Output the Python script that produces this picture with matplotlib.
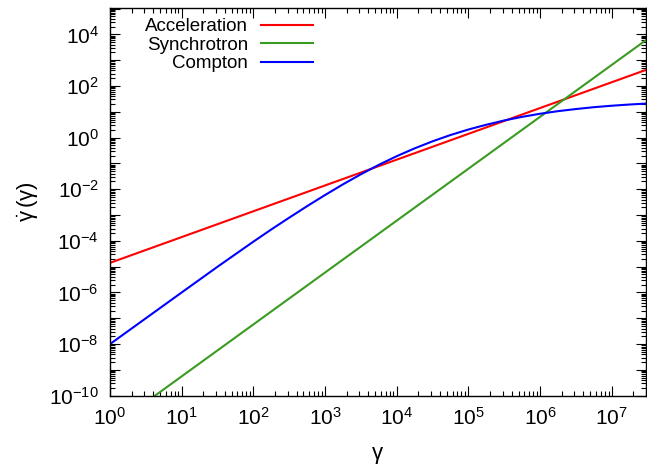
import matplotlib
matplotlib.use("Agg")
import matplotlib.pyplot as plt
from matplotlib.ticker import LogLocator, FuncFormatter, NullFormatter
import numpy as np

plt.rcParams.update({"font.family": ["Liberation Sans", "DejaVu Sans"],
                     "mathtext.fontset": "custom",
                     "mathtext.rm": "Liberation Sans",
                     "mathtext.it": "Liberation Sans:italic"})

# values
gamma_acc = [1.0, 3.0e7]
rate_acc = [1.4e-5, 4.2e2]

gamma_syn = [4.24, 3.0e7]
rate_syn = [1.0e-10, 6.0e3]

gamma_comp = [1.0, 10.0, 31.6, 100.0, 178.0, 316.0, 562.0, 1.0e3, 1.78e3, 3.16e3, 5.62e3,
              1.0e4, 1.78e4, 3.16e4, 5.62e4, 1.0e5, 1.78e5, 3.16e5, 5.62e5, 1.0e6,
              1.78e6, 3.16e6, 5.62e6, 1.0e7, 1.78e7, 3.0e7]
rate_comp = [1.0e-8, 1.0e-6, 9.9e-6, 9.3e-5, 2.77e-4, 7.9e-4, 2.21e-3, 5.96e-3, 1.55e-2, 3.80e-2, 8.81e-2,
             0.191, 0.384, 0.719, 1.26, 2.06, 3.16, 4.62, 6.38, 8.41,
             10.6, 12.8, 15.1, 17.2, 19.2, 20.8]

labels = ["Acceleration", "Synchrotron", "Compton"]
colors = ["#ff0000", "#3a9b21", "#0000ff"]

fig = plt.figure(figsize=(6.47, 4.70), dpi=100)
ax = fig.add_axes([110/647, 1-395.7/470, 536/647, 388.2/470])

for g, r, lab, c in zip([gamma_acc, gamma_syn, gamma_comp],
                        [rate_acc, rate_syn, rate_comp], labels, colors):
    ax.plot(g, r, color=c, lw=1.5, label=lab)

ax.set_xscale("log"); ax.set_yscale("log")
ax.set_xlim(1, 3.0e7); ax.set_ylim(1e-10, 1.1e5)

ax.xaxis.set_major_locator(LogLocator(base=10, numticks=20))
ax.xaxis.set_minor_locator(LogLocator(base=10, subs=np.arange(2, 10), numticks=20))
ax.yaxis.set_major_locator(LogLocator(base=10, numticks=30))
ax.yaxis.set_minor_locator(LogLocator(base=10, subs=np.arange(2, 10), numticks=30))

def fmt(v, pos, even=False):
    e = int(round(np.log10(v)))
    if even and e % 2:
        return ""
    return r"$10^{%d}$" % e

ax.xaxis.set_major_formatter(FuncFormatter(lambda v, p: fmt(v, p)))
ax.yaxis.set_major_formatter(FuncFormatter(lambda v, p: fmt(v, p, True)))
ax.xaxis.set_minor_formatter(NullFormatter()); ax.yaxis.set_minor_formatter(NullFormatter())

ax.tick_params(which="both", direction="in", top=True, right=True, width=0.8, labelsize=15, colors="black")
ax.tick_params(which="major", length=7, pad=8)
ax.tick_params(which="minor", length=3.5)
for s in ax.spines.values():
    s.set_linewidth(1.0)

ax.set_xlabel(r"$\mathrm{\gamma}$", fontsize=16, labelpad=12)
ax.set_ylabel(r"$\dot{\mathrm{\gamma}}\,(\mathrm{\gamma})$", fontsize=16, labelpad=6)

ax.legend(loc="upper right", bbox_to_anchor=(313/647, 1-18/470), bbox_transform=fig.transFigure,
          frameon=False, markerfirst=False, fontsize=13.5, handlelength=2.77, handletextpad=0.7,
          labelspacing=0.08, borderpad=0, borderaxespad=0)

fig.savefig("out.png", dpi=100)
